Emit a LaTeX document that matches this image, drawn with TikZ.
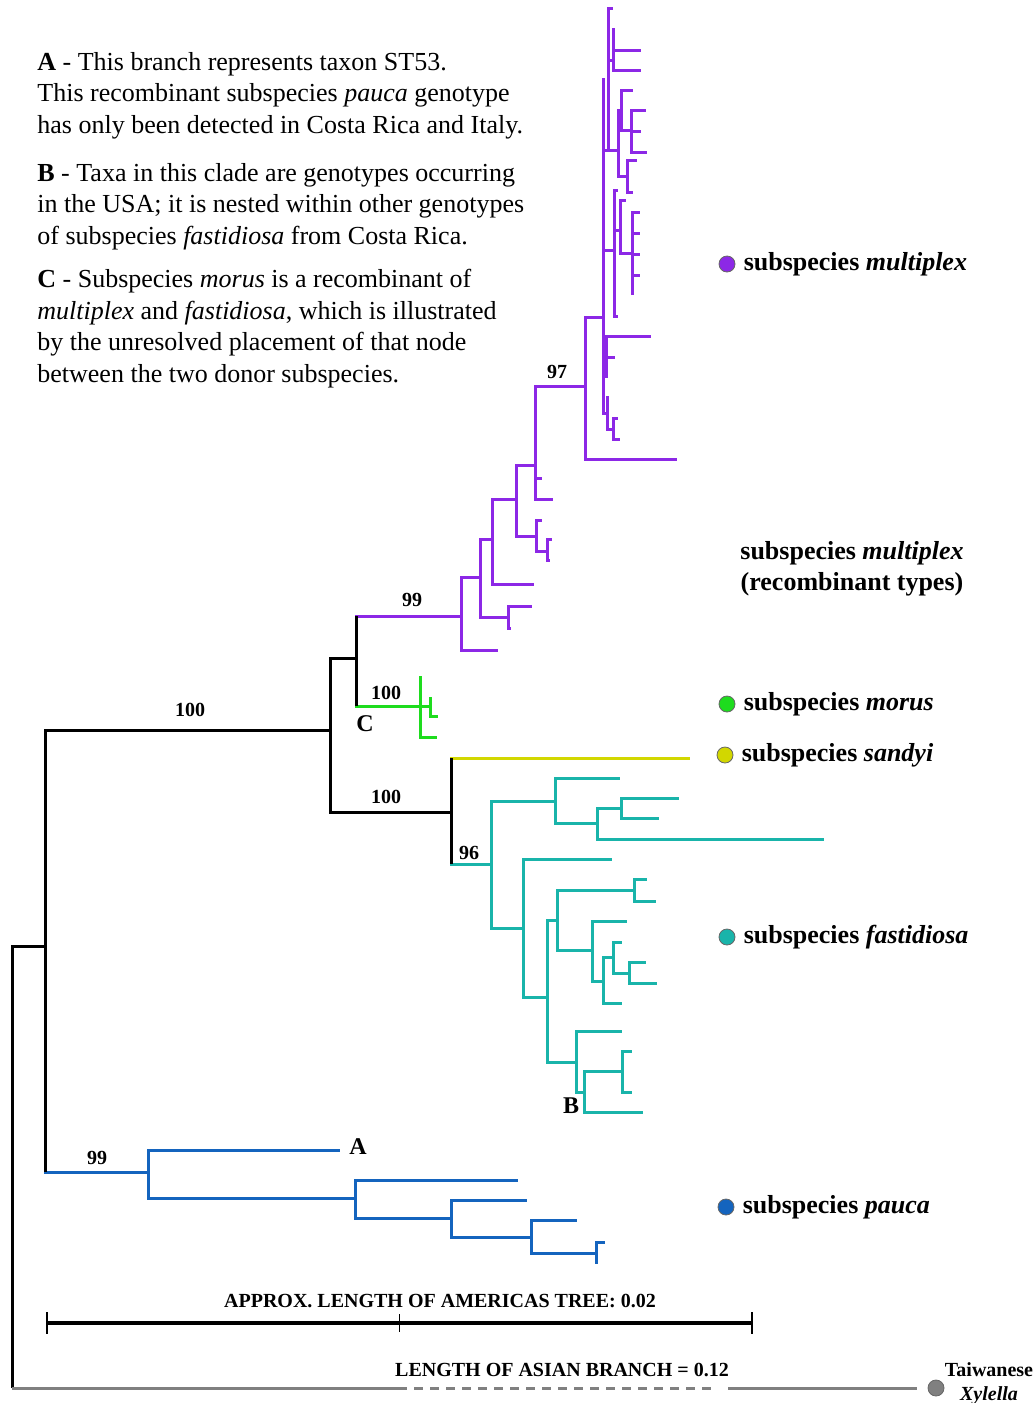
\documentclass[tikz,border=0pt]{standalone}
\usepackage{fontspec}
\setmainfont{Liberation Serif}
\usetikzlibrary{positioning}
\definecolor{cmult}{RGB}{140,40,230}
\definecolor{cmor}{RGB}{30,220,30}
\definecolor{csan}{RGB}{210,215,0}
\definecolor{cfas}{RGB}{25,180,170}
\definecolor{cpau}{RGB}{20,100,190}
\definecolor{cgry}{RGB}{128,128,128}

\begin{document}
\begin{tikzpicture}[x=0.5pt,y=-0.5pt,
  br/.style={line width=1.5pt},
  blk/.style={br,draw=black},
  mult/.style={br,draw=cmult},
  mor/.style={br,draw=cmor},
  san/.style={br,draw=csan},
  fas/.style={br,draw=cfas},
  pau/.style={br,draw=cpau},
  gry/.style={br,draw=cgry},
  bs/.style={font=\fontsize{10}{12}\selectfont\bfseries,inner sep=0pt},
  ltr/.style={font=\fontsize{12}{14}\selectfont\bfseries,inner sep=0pt},
  lab/.style={font=\fontsize{13}{15.5}\selectfont\bfseries,inner sep=0pt},
  sbt/.style={font=\fontsize{10}{12}\selectfont\bfseries,inner sep=0pt},
  dot/.style={circle,draw=black!60,line width=0.4pt,minimum size=8pt,inner sep=0pt},
  note/.style={font=\fontsize{13}{15.75}\selectfont,align=left,anchor=north west,inner sep=0pt}]
\useasboundingbox (0,0) rectangle (1035,1403);

% notes
\node[note] (na) at (37,52) {\textbf{A} - This branch represents taxon ST53.\\
This recombinant subspecies \textit{pauca} genotype\\
has only been detected in Costa Rica and Italy.};
\node[note] (nb) at (37,163) {\textbf{B} - Taxa in this clade are genotypes occurring\\
in the USA; it is nested within other genotypes\\
of subspecies \textit{fastidiosa} from Costa Rica.};
\node[note] (nc) at (37,269) {\textbf{C} - Subspecies \textit{morus} is a recombinant of\\
\textit{multiplex} and \textit{fastidiosa}, which is illustrated\\
by the unresolved placement of that node\\
between the two donor subspecies.};

% internal nodes
\foreach \n/\x/\y in {r/12/1388, am/45/946, n1/330/730, n2/356/658, n3/451/812,
  n4/461/616, p1/480/577, p2/492/539, p3/508/617, p4/516/499, p5/535/465,
  p6/536/536, p7/547/551, n97/585/386, p8/603/317, u1/608/150, u2/613/60,
  u3/618/150, u4/621/110, u5/631/130, u6/627/176, u7/614/250, u8/620/230,
  u9/632/253, q0/606/350, q1/607/413, q2/613/429,
  g0/420/706, g1/430/706, sd/690/758,
  f0/491/864, fa/555/801, fb/523/928, fc/597/823, fd/621/808, fe/547/997,
  ff/557/920, fg/634/890, fh/592/950, fi/603/981, fj/613/957, fk/629/973,
  fl/576/1062, fm/584/1092, fn/622/1071,
  pb0/148/1172, pb1/355/1198, pb2/451/1218, pb3/531/1237, pb4/596/1253}
  \coordinate (\n) at (\x,\y);

% multiplex
\foreach \a/\b in {n2/n4, n4/p1, p1/p2, p1/p3, p2/p4, p4/p5, p4/p6, p6/p7,
  p5/n97, n97/p8, p8/u1, u1/u2, u1/u3, u3/u4, u4/u5, u3/u6, p8/u7, u7/u8,
  u8/u9, p8/q0, p8/q1, q1/q2}
  \draw[mult] (\a) |- (\b);
\foreach \a/\x/\y [count=\i] in {n4/498/650, p3/532/606, p3/511/628, p2/534/584,
  p5/542/478, p5/553/499, p6/542/520, p7/552/539, p7/550/560, n97/677/459,
  p8/603/78, u1/613/8, u2/613/28, u2/641/50, u2/641/70, u4/633/90,
  u5/646/110, u5/641/131, u5/647/152, u6/637/160, u6/633/192, u7/618/190,
  u8/626/200, u9/640/212, u9/640/233, u9/640/254, u9/640/275, u9/632/295,
  u7/618/316, q0/651/336, q0/615/357, q0/606/378, q1/609/397, q2/618/418,
  q2/620/439}
  {\coordinate (mt\i) at (\x,\y); \draw[mult] (\a) |- (mt\i);}

% morus
\foreach \a/\b in {n2/g0, g0/g1}
  \draw[mor] (\a) |- (\b);
\foreach \a/\x/\y [count=\i] in {g0/420/676, g0/437/737, g1/430/697, g1/438/716}
  {\coordinate (gt\i) at (\x,\y); \draw[mor] (\a) |- (gt\i);}

% sandyi
\draw[san] (n3) |- (sd);

% fastidiosa
\foreach \a/\b in {n3/f0, f0/fa, f0/fb, fa/fc, fc/fd, fb/fe, fe/ff, ff/fg,
  ff/fh, fh/fi, fi/fj, fj/fk, fe/fl, fl/fm, fm/fn}
  \draw[fas] (\a) |- (\b);
\foreach \a/\x/\y [count=\i] in {fa/620/778, fc/824/839, fd/679/798, fd/659/818,
  fb/612/859, fg/647/879, fg/656/901, fh/627/921, fi/622/1003, fj/622/942,
  fk/646/962, fk/657/983, fl/622/1031, fm/643/1112, fn/632/1051, fn/632/1092}
  {\coordinate (ft\i) at (\x,\y); \draw[fas] (\a) |- (ft\i);}

% pauca
\foreach \a/\b in {am/pb0, pb0/pb1, pb1/pb2, pb2/pb3, pb3/pb4}
  \draw[pau] (\a) |- (\b);
\foreach \a/\x/\y [count=\i] in {pb0/340/1150, pb1/518/1180, pb2/527/1200,
  pb3/577/1220, pb4/605/1242, pb4/596/1264}
  {\coordinate (pt\i) at (\x,\y); \draw[pau] (\a) |- (pt\i);}

% backbone
\foreach \a/\b in {r/am, am/n1, n1/n2, n1/n3}
  \draw[blk] (\a) |- (\b);
\draw[blk] (am) -- (am |- pb0);
\draw[blk] (n2 |- n4) -- (n2 |- g0);
\draw[blk] (n3 |- sd) -- (n3 |- f0);

% support values
\node[bs] at (557,372) {97};
\node[bs] at (412,600) {99};
\node[bs] at (190,710) {100};
\node[bs] at (386,693) {100};
\node[bs] at (386,797) {100};
\node[bs] at (469,853) {96};
\node[bs] at (97,1158) {99};
\node[ltr] at (365,724) {C};
\node[ltr] at (571,1106) {B};
\node[ltr] at (358,1147) {A};

% legend
\node[dot,fill=cmult] (dmult) at (727,264) {};
\node[lab,right=4pt of dmult] {subspecies \textit{multiplex}};
\node[lab,align=center] at (852,569) {subspecies \textit{multiplex}\\(recombinant types)};
\node[dot,fill=cmor] (dmor) at (727,704) {};
\node[lab,right=4pt of dmor] {subspecies \textit{morus}};
\node[dot,fill=csan] (dsan) at (725,755) {};
\node[lab,right=4pt of dsan] {subspecies \textit{sandyi}};
\node[dot,fill=cfas] (dfas) at (727,937) {};
\node[lab,right=4pt of dfas] {subspecies \textit{fastidiosa}};
\node[dot,fill=cpau] (dpau) at (726,1207) {};
\node[lab,right=4pt of dpau] {subspecies \textit{pauca}};

% scale bar
\coordinate (sbl) at (47,1323);
\coordinate (sbm) at (399,1323);
\coordinate (sbr) at (752,1323);
\draw[line width=2pt] (sbl) -- (sbr);
\draw[line width=1pt] ([yshift=5.5pt]sbl) -- ([yshift=-5.5pt]sbl);
\draw[line width=1pt] ([yshift=5.5pt]sbr) -- ([yshift=-5.5pt]sbr);
\draw[line width=0.4pt] ([yshift=4.5pt]sbm) -- ([yshift=-4.5pt]sbm);
\node[sbt] at (440,1301) {APPROX. LENGTH OF AMERICAS TREE: 0.02};

% asian branch
\coordinate (as1) at (398,1388);
\coordinate (as2) at (715,1388);
\coordinate (as3) at (728,1388);
\coordinate (as4) at (917,1388);
\draw[gry] (r) -- (as1);
\draw[gry,dash pattern=on 4.5pt off 3.5pt] (as1) -- (as2);
\draw[gry] (as3) -- (as4);
\node[dot,fill=cgry] (dtw) at (936,1388) {};
\node[sbt] at (562,1370) {LENGTH OF ASIAN BRANCH = 0.12};
\node[sbt,align=center] at (989,1384) {Taiwanese\\\textit{Xylella}};
\end{tikzpicture}
\end{document}
